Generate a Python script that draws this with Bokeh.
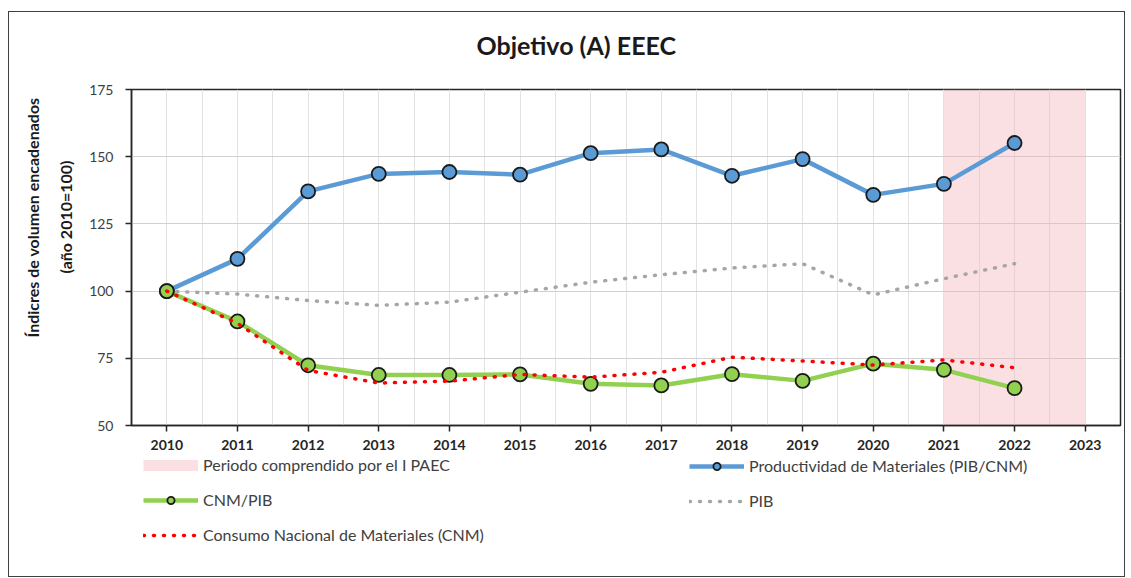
from bokeh.plotting import figure
from bokeh.layouts import column
from bokeh.models import Range1d, FixedTicker, Legend, LegendItem, Title
from bokeh.embed import file_html
from bokeh.resources import INLINE

# ---- data ----
years = list(range(2010, 2023))
productividad = [100, 112.0, 137.1, 143.6, 144.3, 143.3, 151.3, 152.7, 142.9, 149.1, 135.8, 139.9, 155.1]
cnm_pib = [100, 88.7, 72.4, 68.8, 68.8, 69.0, 65.5, 64.9, 69.1, 66.6, 73.0, 70.7, 63.9]
pib = [100, 98.9, 96.5, 94.7, 95.9, 99.6, 103.3, 106.1, 108.6, 110.2, 98.6, 104.6, 110.2]
cnm = [100, 88.0, 70.5, 65.8, 66.5, 69.0, 68.0, 69.8, 75.4, 74.0, 72.5, 74.4, 71.5]
periodo = [2021, 2023]
tick_years = list(range(2010, 2024))
y_ticks = [50, 75, 100, 125, 150, 175]

title_text = "Objetivo (A) EEEC"
ylabel1 = "Índicres de volumen encadenados"
ylabel2 = "(año 2010=100)"
lbl_periodo = "Periodo comprendido por el I PAEC"
lbl_prod = "Productividad de Materiales (PIB/CNM)"
lbl_cnmpib = "CNM/PIB"
lbl_pib = "PIB"
lbl_cnm = "Consumo Nacional de Materiales (CNM)"

FONT = "Lato"
BLUE = "#5b9bd5"
GREEN = "#92d050"
GRAY = "#a6a6a6"
RED = "#ff0000"
PINK = "#f5b2b9"
PINK_SOLID = "#fbe0e3"

BLUE_STYLE = dict(line_color=BLUE, line_width=4.5)
GREEN_STYLE = dict(line_color=GREEN, line_width=4.5)
GRAY_STYLE = dict(line_color=GRAY, line_width=3.5, line_dash="1 9", line_cap="round")
RED_STYLE = dict(line_color=RED, line_width=3.5, line_dash="1 9", line_cap="round")
MARK = dict(line_color="#1a1a1a", line_width=1.8)

p = figure(width=1115, height=444,
           x_range=Range1d(tick_years[0] - 0.5, tick_years[-1] + 0.5),
           y_range=Range1d(y_ticks[0], y_ticks[-1]),
           output_backend="svg", toolbar_location=None,
           min_border_left=122, min_border_right=4,
           min_border_top=77, min_border_bottom=31)
p.background_fill_color = "white"
p.border_fill_color = "white"
p.outline_line_color = "#262626"
p.outline_line_width = 1.5

# title: a blank spacer next to the frame, the real title above it
p.add_layout(Title(text=" ", standoff=26, text_font_size="2px"), "above")
p.add_layout(Title(text=title_text, align="left", offset=345, standoff=0,
                   text_font=FONT, text_font_size="25px", text_font_style="bold",
                   text_color="#1a1a1a"), "above")

# axes
p.xaxis.ticker = FixedTicker(ticks=tick_years, minor_ticks=[t + 0.5 for t in tick_years[:-1]])
p.yaxis.ticker = FixedTicker(ticks=y_ticks)
for ax in (p.xaxis, p.yaxis):
    ax.axis_line_color = "#262626"
    ax.axis_line_width = 1.5
    ax.major_tick_line_color = "#262626"
    ax.major_tick_line_width = 1.5
    ax.major_tick_in = 0
    ax.major_tick_out = 6
    ax.minor_tick_line_color = None
    ax.major_label_text_font = FONT
    ax.major_label_text_font_size = "14px"
p.xaxis.major_label_text_font_style = "bold"
p.xaxis.major_label_text_color = "#262626"
p.xaxis.major_label_standoff = 8
p.yaxis.major_label_text_color = "#404040"
p.yaxis.major_label_standoff = 12

# y axis label as two stacked side titles (line nearest the axis first)
p.add_layout(Title(text=ylabel2, align="right", offset=71, standoff=24, text_font=FONT,
                   text_font_size="16px", text_font_style="bold", text_color="#1a1a1a"), "left")
p.add_layout(Title(text=ylabel1, align="right", offset=8, standoff=0, text_font=FONT,
                   text_font_size="16px", text_font_style="bold", text_color="#1a1a1a"), "left")

# grids
p.xgrid.grid_line_color = "#e3e3e3"
p.xgrid.minor_grid_line_color = "#e3e3e3"
p.ygrid.grid_line_color = "#d0d0d0"
p.xgrid.grid_line_width = 1
p.ygrid.grid_line_width = 1.2

# period shading
p.quad(left=[periodo[0]], right=[periodo[1]], bottom=[y_ticks[0]], top=[y_ticks[-1]],
       fill_color=PINK, fill_alpha=0.4, line_color=None)

# series
p.line(years, productividad, **BLUE_STYLE)
p.line(years, pib, **GRAY_STYLE)
p.line(years, cnm_pib, **GREEN_STYLE)
p.scatter(years, productividad, size=14, fill_color=BLUE, **MARK)
p.scatter(years, cnm_pib, size=14, fill_color=GREEN, **MARK)
p.line(years, cnm, **RED_STYLE)

# ---- legend strip (separate figure; swatch renderers hold a single NaN, so draw nothing) ----
lf = figure(width=1115, height=120, x_range=Range1d(0, 1), y_range=Range1d(0, 1),
            output_backend="svg", toolbar_location=None,
            x_axis_location=None, y_axis_location=None, min_border=0)
lf.grid.visible = False
lf.outline_line_color = None
lf.background_fill_color = "white"
lf.border_fill_color = "white"

NA = [float("nan")]
sw_pink = lf.line(x=NA, y=NA, line_color=PINK_SOLID, line_width=11)
sw_bl = lf.line(x=NA, y=NA, **BLUE_STYLE)
sw_bm = lf.scatter(x=NA, y=NA, fill_color=BLUE, **MARK)
sw_gl = lf.line(x=NA, y=NA, **GREEN_STYLE)
sw_gm = lf.scatter(x=NA, y=NA, fill_color=GREEN, **MARK)
sw_gray = lf.line(x=NA, y=NA, **GRAY_STYLE)
sw_red = lf.line(x=NA, y=NA, **RED_STYLE)

def mk_legend(items, loc):
    return Legend(items=items, location=loc, orientation="vertical",
                  glyph_width=55, glyph_height=18, label_height=18,
                  label_standoff=5, spacing=16, padding=0, margin=0,
                  border_line_color=None, background_fill_alpha=0,
                  label_text_font=FONT, label_text_font_size="16px",
                  label_text_color="#404040")

leg_l = mk_legend([LegendItem(label=lbl_periodo, renderers=[sw_pink]),
                   LegendItem(label=lbl_cnmpib, renderers=[sw_gl, sw_gm]),
                   LegendItem(label=lbl_cnm, renderers=[sw_red])], (12, 32))
leg_r = mk_legend([LegendItem(label=lbl_prod, renderers=[sw_bl, sw_bm]),
                   LegendItem(label=lbl_pib, renderers=[sw_gray])], (558, 66))
lf.add_layout(leg_l, "center")
lf.add_layout(leg_r, "center")

lay = column(p, lf, spacing=0)
lay.styles = {"border": "1px solid #404040", "margin-left": "8px", "margin-top": "11px",
              "background-color": "white"}

open("out.html", "w").write(file_html(lay, INLINE))
